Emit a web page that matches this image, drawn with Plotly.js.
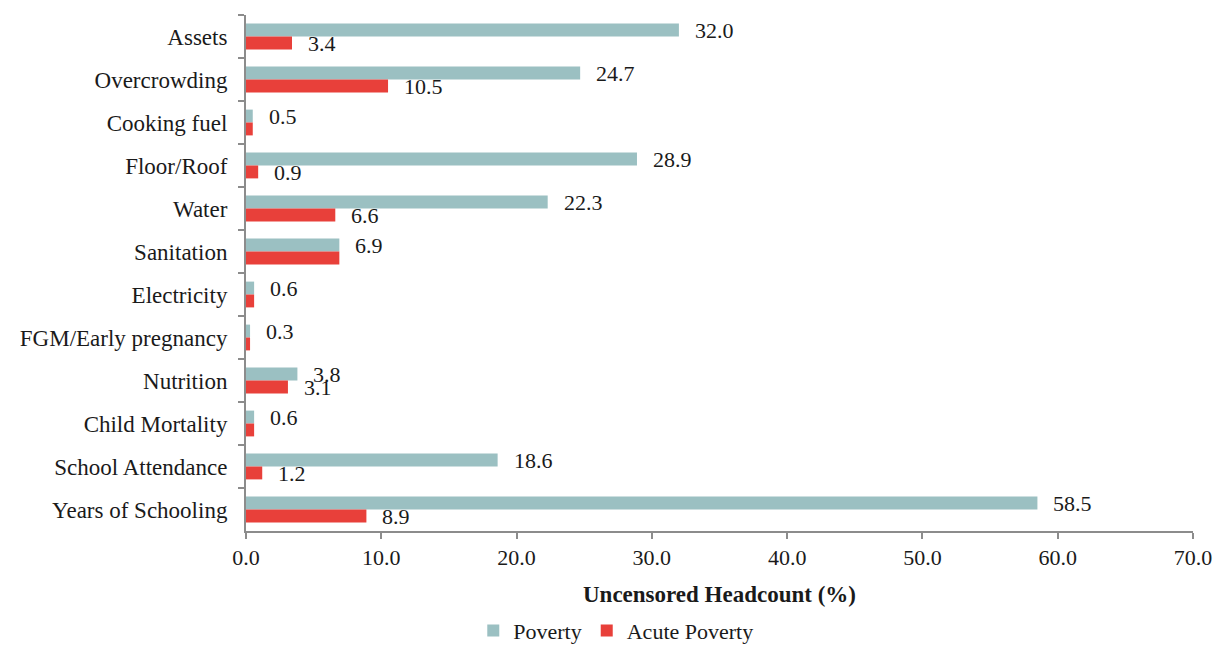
<!DOCTYPE html>
<html>
<head>
<meta charset="utf-8">
<script src="https://cdn.plot.ly/plotly-3.0.1.min.js"></script>
<style>
  html, body { margin: 0; padding: 0; background: #ffffff; }
  #chart { width: 1216px; height: 645px; }
</style>
</head>
<body>
<div id="chart"></div>
<script>
// Indicators, top to bottom
const indicators = [
  "Assets", "Overcrowding", "Cooking fuel", "Floor/Roof", "Water", "Sanitation",
  "Electricity", "FGM/Early pregnancy", "Nutrition", "Child Mortality",
  "School Attendance", "Years of Schooling"
];

// Uncensored headcount ratios (%)
const poverty      = [32.0, 24.7, 0.5, 28.9, 22.3, 6.9, 0.6, 0.3, 3.8, 0.6, 18.6, 58.5];
const acutePoverty = [3.4, 10.5, 0.5, 0.9, 6.6, 6.9, 0.6, 0.3, 3.1, 0.6, 1.2, 8.9];

const xTickValues = [0, 10, 20, 30, 40, 50, 60, 70];

const FONT = "Liberation Serif, Times New Roman, serif";
const TEXT_COLOR = "#1a1a1a";
const AXIS_COLOR = "#8c8c8c";

const traces = [
  {
    type: "bar", orientation: "h", name: "Poverty",
    y: indicators, x: poverty,
    marker: { color: "#9bc0c2" },
    hoverinfo: "x+y"
  },
  {
    type: "bar", orientation: "h", name: "Acute Poverty",
    y: indicators, x: acutePoverty,
    marker: { color: "#e8403a" },
    hoverinfo: "x+y"
  }
];

// Value labels beside each bar; where both series share a value only one label is written
const annotations = [];
indicators.forEach((cat, i) => {
  annotations.push({
    x: poverty[i], y: cat, xref: "x", yref: "y",
    text: poverty[i].toFixed(1), showarrow: false,
    xanchor: "left", yanchor: "middle", xshift: 14, yshift: 6.5,
    font: { family: FONT, size: 22, color: TEXT_COLOR }
  });
  if (acutePoverty[i] !== poverty[i]) {
    annotations.push({
      x: acutePoverty[i], y: cat, xref: "x", yref: "y",
      text: acutePoverty[i].toFixed(1), showarrow: false,
      xanchor: "left", yanchor: "middle", xshift: 14, yshift: -6.5,
      font: { family: FONT, size: 22, color: TEXT_COLOR }
    });
  }
});

const layout = {
  width: 1216, height: 645,
  margin: { l: 246, r: 23, t: 15, b: 114, autoexpand: false },
  paper_bgcolor: "#ffffff", plot_bgcolor: "#ffffff",
  font: { family: FONT, size: 22, color: TEXT_COLOR },
  barmode: "group",
  bargap: 0.4, bargroupgap: 0,
  showlegend: true,
  legend: {
    orientation: "h", x: 0.24, xanchor: "left", y: -0.193, yanchor: "middle",
    font: { family: FONT, size: 22, color: TEXT_COLOR },
    traceorder: "normal"
  },
  xaxis: {
    range: [0, 70], tickvals: xTickValues,
    ticktext: xTickValues.map(v => v.toFixed(1)),
    automargin: false,
    showgrid: false, zeroline: false,
    showline: true, linecolor: AXIS_COLOR, linewidth: 2,
    ticks: "outside", ticklen: 6, tickwidth: 2, tickcolor: AXIS_COLOR,
    tickfont: { family: FONT, size: 22, color: TEXT_COLOR },
    title: { text: "<b>Uncensored Headcount (%)</b>", standoff: 16,
             font: { family: FONT, size: 23, color: TEXT_COLOR } }
  },
  yaxis: {
    type: "category", autorange: "reversed",
    automargin: false,
    showgrid: false, zeroline: false,
    showline: true, linecolor: AXIS_COLOR, linewidth: 2,
    ticks: "outside", tickson: "boundaries", ticklen: 6, tickwidth: 2, tickcolor: AXIS_COLOR,
    ticklabelstandoff: 12,
    tickfont: { family: FONT, size: 23, color: TEXT_COLOR }
  },
  annotations: annotations
};

Plotly.newPlot("chart", traces, layout, { displayModeBar: false, staticPlot: true });
</script>
</body>
</html>
